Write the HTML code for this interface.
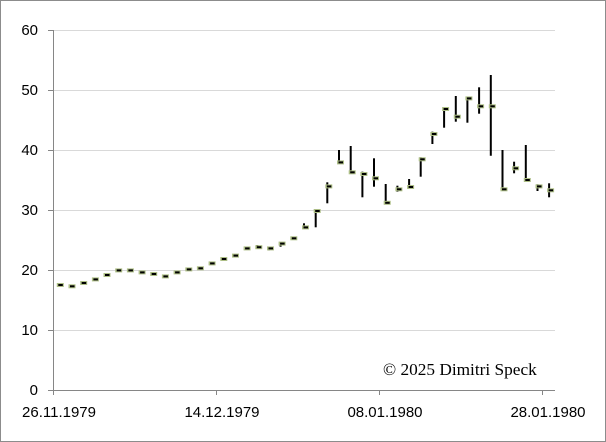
<!DOCTYPE html>
<html>
<head>
<meta charset="utf-8">
<style>
html,body{margin:0;padding:0;background:#fff;}
svg{display:block;}
</style>
</head>
<body>
<svg width="606" height="442" viewBox="0 0 606 442" xmlns="http://www.w3.org/2000/svg">
<defs>
<g id="m"><rect x="-2" y="-2" width="7" height="4" fill="#adbe86"/><rect x="-0.5" y="-1" width="4.5" height="2" fill="#000"/></g>
</defs>
<rect x="0.5" y="0.5" width="605" height="441" fill="#fff" stroke="#8c8c8c" stroke-width="1"/>
<g stroke="#d9d9d9" stroke-width="1">
<line x1="53" y1="30.5" x2="555" y2="30.5"/>
<line x1="53" y1="90.5" x2="555" y2="90.5"/>
<line x1="53" y1="150.5" x2="555" y2="150.5"/>
<line x1="53" y1="210.5" x2="555" y2="210.5"/>
<line x1="53" y1="270.5" x2="555" y2="270.5"/>
<line x1="53" y1="330.5" x2="555" y2="330.5"/>
</g>
<g stroke="#868686" stroke-width="1">
<line x1="53.5" y1="30" x2="53.5" y2="390"/>
<line x1="53" y1="390.5" x2="555" y2="390.5"/>
<line x1="48" y1="30.5" x2="53" y2="30.5"/>
<line x1="48" y1="90.5" x2="53" y2="90.5"/>
<line x1="48" y1="150.5" x2="53" y2="150.5"/>
<line x1="48" y1="210.5" x2="53" y2="210.5"/>
<line x1="48" y1="270.5" x2="53" y2="270.5"/>
<line x1="48" y1="330.5" x2="53" y2="330.5"/>
<line x1="48" y1="390.5" x2="53" y2="390.5"/>
<line x1="53.5" y1="390" x2="53.5" y2="395"/>
<line x1="216.5" y1="390" x2="216.5" y2="395"/>
<line x1="379.5" y1="390" x2="379.5" y2="395"/>
<line x1="542.5" y1="390" x2="542.5" y2="395"/>
</g>
<g font-family="Liberation Sans, Arial, sans-serif" font-size="15" fill="#000" text-anchor="end">
<text x="38" y="35">60</text>
<text x="38" y="95">50</text>
<text x="38" y="155">40</text>
<text x="38" y="215">30</text>
<text x="38" y="275">20</text>
<text x="38" y="335">10</text>
<text x="38" y="395">0</text>
</g>
<g font-family="Liberation Sans, Arial, sans-serif" font-size="15" fill="#000" text-anchor="middle">
<text x="59" y="417">26.11.1979</text>
<text x="222" y="417">14.12.1979</text>
<text x="385" y="417">08.01.1980</text>
<text x="548" y="417">28.01.1980</text>
</g>
<g stroke="#000" stroke-width="2">
<line x1="257.3" y1="245" x2="257.3" y2="248.3"/>
<line x1="269" y1="247.3" x2="269" y2="250.3"/>
<line x1="280.6" y1="243.6" x2="280.6" y2="246.7"/>
<line x1="304" y1="223.3" x2="304" y2="227.4"/>
<line x1="315.7" y1="211" x2="315.7" y2="227.3"/>
<line x1="327.3" y1="182.3" x2="327.3" y2="203.3"/>
<line x1="339" y1="150" x2="339" y2="162.4"/>
<line x1="350.7" y1="146" x2="350.7" y2="173.3"/>
<line x1="362.4" y1="171.7" x2="362.4" y2="197.3"/>
<line x1="374" y1="158.3" x2="374" y2="186.7"/>
<line x1="385.7" y1="184" x2="385.7" y2="202.7"/>
<line x1="397.4" y1="185.7" x2="397.4" y2="191.7"/>
<line x1="409.1" y1="179" x2="409.1" y2="189"/>
<line x1="420.7" y1="157.3" x2="420.7" y2="176.7"/>
<line x1="432.4" y1="131.7" x2="432.4" y2="144"/>
<line x1="444.1" y1="108.3" x2="444.1" y2="127.7"/>
<line x1="455.8" y1="96" x2="455.8" y2="121.7"/>
<line x1="467.4" y1="97.7" x2="467.4" y2="122.7"/>
<line x1="479.1" y1="87.3" x2="479.1" y2="113.7"/>
<line x1="490.8" y1="75" x2="490.8" y2="155.7"/>
<line x1="502.5" y1="150" x2="502.5" y2="191"/>
<line x1="514.1" y1="161.7" x2="514.1" y2="173.3"/>
<line x1="525.8" y1="145" x2="525.8" y2="180"/>
<line x1="537.5" y1="184.3" x2="537.5" y2="191"/>
<line x1="549.1" y1="183.3" x2="549.1" y2="197.3"/>
</g>
<g>
<use href="#m" x="58.8" y="285"/>
<use href="#m" x="70.5" y="286.3"/>
<use href="#m" x="82.2" y="283"/>
<use href="#m" x="93.9" y="279.4"/>
<use href="#m" x="105.5" y="275"/>
<use href="#m" x="117.2" y="270.4"/>
<use href="#m" x="128.9" y="270.4"/>
<use href="#m" x="140.6" y="272.4"/>
<use href="#m" x="152.2" y="274"/>
<use href="#m" x="163.9" y="276.4"/>
<use href="#m" x="175.6" y="272.4"/>
<use href="#m" x="187.3" y="269.4"/>
<use href="#m" x="198.9" y="268.3"/>
<use href="#m" x="210.6" y="263.4"/>
<use href="#m" x="222.3" y="259"/>
<use href="#m" x="234" y="255.6"/>
<use href="#m" x="245.6" y="248.4"/>
<use href="#m" x="257.3" y="247.2"/>
<use href="#m" x="269" y="248.4"/>
<use href="#m" x="280.6" y="243.6"/>
<use href="#m" x="292.3" y="238.3"/>
<use href="#m" x="304" y="227.4"/>
<use href="#m" x="315.7" y="211"/>
<use href="#m" x="327.3" y="186.4"/>
<use href="#m" x="339" y="162.4"/>
<use href="#m" x="350.7" y="172.3"/>
<use href="#m" x="362.4" y="174"/>
<use href="#m" x="374" y="178.3"/>
<use href="#m" x="385.7" y="202.8"/>
<use href="#m" x="397.4" y="189.3"/>
<use href="#m" x="409.1" y="187"/>
<use href="#m" x="420.7" y="159.3"/>
<use href="#m" x="432.4" y="134"/>
<use href="#m" x="444.1" y="109"/>
<use href="#m" x="455.8" y="116.7"/>
<use href="#m" x="467.4" y="98.4"/>
<use href="#m" x="479.1" y="106.3"/>
<use href="#m" x="490.8" y="106.3"/>
<use href="#m" x="502.5" y="189.3"/>
<use href="#m" x="514.1" y="168.3"/>
<use href="#m" x="525.8" y="180"/>
<use href="#m" x="537.5" y="186.4"/>
<use href="#m" x="549.1" y="190.3"/>
</g>
<text x="383" y="375" font-family="Liberation Serif, Times New Roman, serif" font-size="17.3" fill="#000">© 2025 Dimitri Speck</text>
</svg>
</body>
</html>
